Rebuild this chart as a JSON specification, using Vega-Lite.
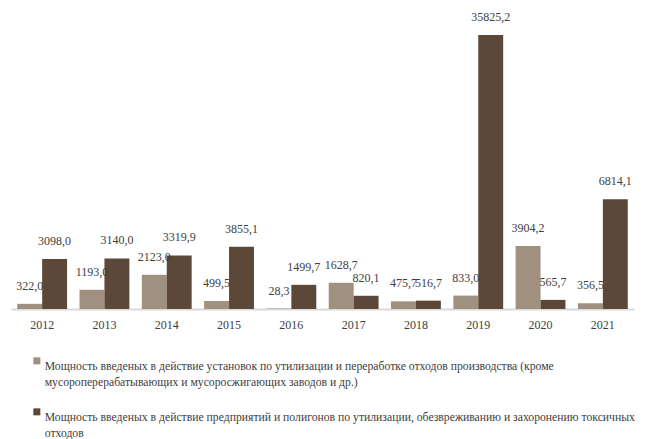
{
  "$schema": "https://vega.github.io/schema/vega-lite/v6.json",
  "width": 623,
  "height": 274,
  "autosize": {"type": "none"},
  "padding": {"left": 11, "top": 35, "right": 12, "bottom": 130},
  "background": "#ffffff",
  "config": {
    "view": {"stroke": null},
    "font": "Liberation Serif",
    "locale": {"number": {"decimal": ",", "thousands": " ", "grouping": [3], "currency": ["", ""]}}
  },
  "data": {
    "values": [
      {"year": "2012", "series": "Мощность введеных в действие установок по утилизации и переработке отходов производства (кроме мусороперерабатывающих и мусоросжигающих заводов и др.)", "value": 322.0},
      {"year": "2013", "series": "Мощность введеных в действие установок по утилизации и переработке отходов производства (кроме мусороперерабатывающих и мусоросжигающих заводов и др.)", "value": 1193.0},
      {"year": "2014", "series": "Мощность введеных в действие установок по утилизации и переработке отходов производства (кроме мусороперерабатывающих и мусоросжигающих заводов и др.)", "value": 2123.0},
      {"year": "2015", "series": "Мощность введеных в действие установок по утилизации и переработке отходов производства (кроме мусороперерабатывающих и мусоросжигающих заводов и др.)", "value": 499.5},
      {"year": "2016", "series": "Мощность введеных в действие установок по утилизации и переработке отходов производства (кроме мусороперерабатывающих и мусоросжигающих заводов и др.)", "value": 28.3},
      {"year": "2017", "series": "Мощность введеных в действие установок по утилизации и переработке отходов производства (кроме мусороперерабатывающих и мусоросжигающих заводов и др.)", "value": 1628.7},
      {"year": "2018", "series": "Мощность введеных в действие установок по утилизации и переработке отходов производства (кроме мусороперерабатывающих и мусоросжигающих заводов и др.)", "value": 475.7},
      {"year": "2019", "series": "Мощность введеных в действие установок по утилизации и переработке отходов производства (кроме мусороперерабатывающих и мусоросжигающих заводов и др.)", "value": 833.0},
      {"year": "2020", "series": "Мощность введеных в действие установок по утилизации и переработке отходов производства (кроме мусороперерабатывающих и мусоросжигающих заводов и др.)", "value": 3904.2},
      {"year": "2021", "series": "Мощность введеных в действие установок по утилизации и переработке отходов производства (кроме мусороперерабатывающих и мусоросжигающих заводов и др.)", "value": 356.5},
      {"year": "2012", "series": "Мощность введеных в действие предприятий и полигонов по утилизации, обезвреживанию и захоронению токсичных отходов", "value": 3098.0},
      {"year": "2013", "series": "Мощность введеных в действие предприятий и полигонов по утилизации, обезвреживанию и захоронению токсичных отходов", "value": 3140.0},
      {"year": "2014", "series": "Мощность введеных в действие предприятий и полигонов по утилизации, обезвреживанию и захоронению токсичных отходов", "value": 3319.9},
      {"year": "2015", "series": "Мощность введеных в действие предприятий и полигонов по утилизации, обезвреживанию и захоронению токсичных отходов", "value": 3855.1},
      {"year": "2016", "series": "Мощность введеных в действие предприятий и полигонов по утилизации, обезвреживанию и захоронению токсичных отходов", "value": 1499.7},
      {"year": "2017", "series": "Мощность введеных в действие предприятий и полигонов по утилизации, обезвреживанию и захоронению токсичных отходов", "value": 820.1},
      {"year": "2018", "series": "Мощность введеных в действие предприятий и полигонов по утилизации, обезвреживанию и захоронению токсичных отходов", "value": 516.7},
      {"year": "2019", "series": "Мощность введеных в действие предприятий и полигонов по утилизации, обезвреживанию и захоронению токсичных отходов", "value": 35825.2},
      {"year": "2020", "series": "Мощность введеных в действие предприятий и полигонов по утилизации, обезвреживанию и захоронению токсичных отходов", "value": 565.7},
      {"year": "2021", "series": "Мощность введеных в действие предприятий и полигонов по утилизации, обезвреживанию и захоронению токсичных отходов", "value": 6814.1}
    ]
  },
  "encoding": {
    "x": {
      "field": "year", "type": "nominal",
      "scale": {"paddingInner": 0.2, "paddingOuter": 0.1},
      "axis": {
        "title": null, "labelAngle": 0, "ticks": false, "domainColor": "#d9d9d9", "domainWidth": 2,
        "labelFontSize": 12, "labelColor": "#404040", "labelPadding": 10, "grid": false
      }
    },
    "xOffset": {
      "field": "series", "type": "nominal",
      "sort": [
        "Мощность введеных в действие установок по утилизации и переработке отходов производства (кроме мусороперерабатывающих и мусоросжигающих заводов и др.)",
        "Мощность введеных в действие предприятий и полигонов по утилизации, обезвреживанию и захоронению токсичных отходов"
      ]
    },
    "y": {
      "field": "value", "type": "quantitative",
      "scale": {"domain": [0, 17000], "nice": false, "clamp": true},
      "axis": null
    }
  },
  "layer": [
    {
      "mark": {"type": "bar"},
      "encoding": {
        "color": {
          "field": "series", "type": "nominal",
          "scale": {
            "domain": [
              "Мощность введеных в действие установок по утилизации и переработке отходов производства (кроме мусороперерабатывающих и мусоросжигающих заводов и др.)",
              "Мощность введеных в действие предприятий и полигонов по утилизации, обезвреживанию и захоронению токсичных отходов"
            ],
            "range": ["#a09080", "#5c4838"]
          },
          "legend": {
            "title": null,
            "orient": "none",
            "legendX": 20,
            "legendY": 320,
            "direction": "vertical",
            "symbolType": "square",
            "symbolSize": 49,
            "symbolStrokeWidth": 0,
            "labelFontSize": 11.7,
            "labelColor": "#404040",
            "labelLimit": 0,
            "labelOffset": 2,
            "labelBaseline": "top",
            "rowPadding": 17,
            "encode": {"labels": {"update": {"lineHeight": {"value": 16}}}},
            "labelExpr": "indexof(datum.label, 'установок') > 0 ? ['Мощность введеных в действие установок по утилизации и переработке отходов производства (кроме', 'мусороперерабатывающих и мусоросжигающих заводов и др.)'] : ['Мощность введеных в действие предприятий и полигонов по утилизации, обезвреживанию и захоронению токсичных', 'отходов']"
          }
        }
      }
    },
    {
      "mark": {"type": "text", "baseline": "middle", "dy": -18, "fontSize": 12, "color": "#404040"},
      "encoding": {
        "text": {"field": "value", "type": "quantitative", "format": ".1f"}
      }
    }
  ]
}
